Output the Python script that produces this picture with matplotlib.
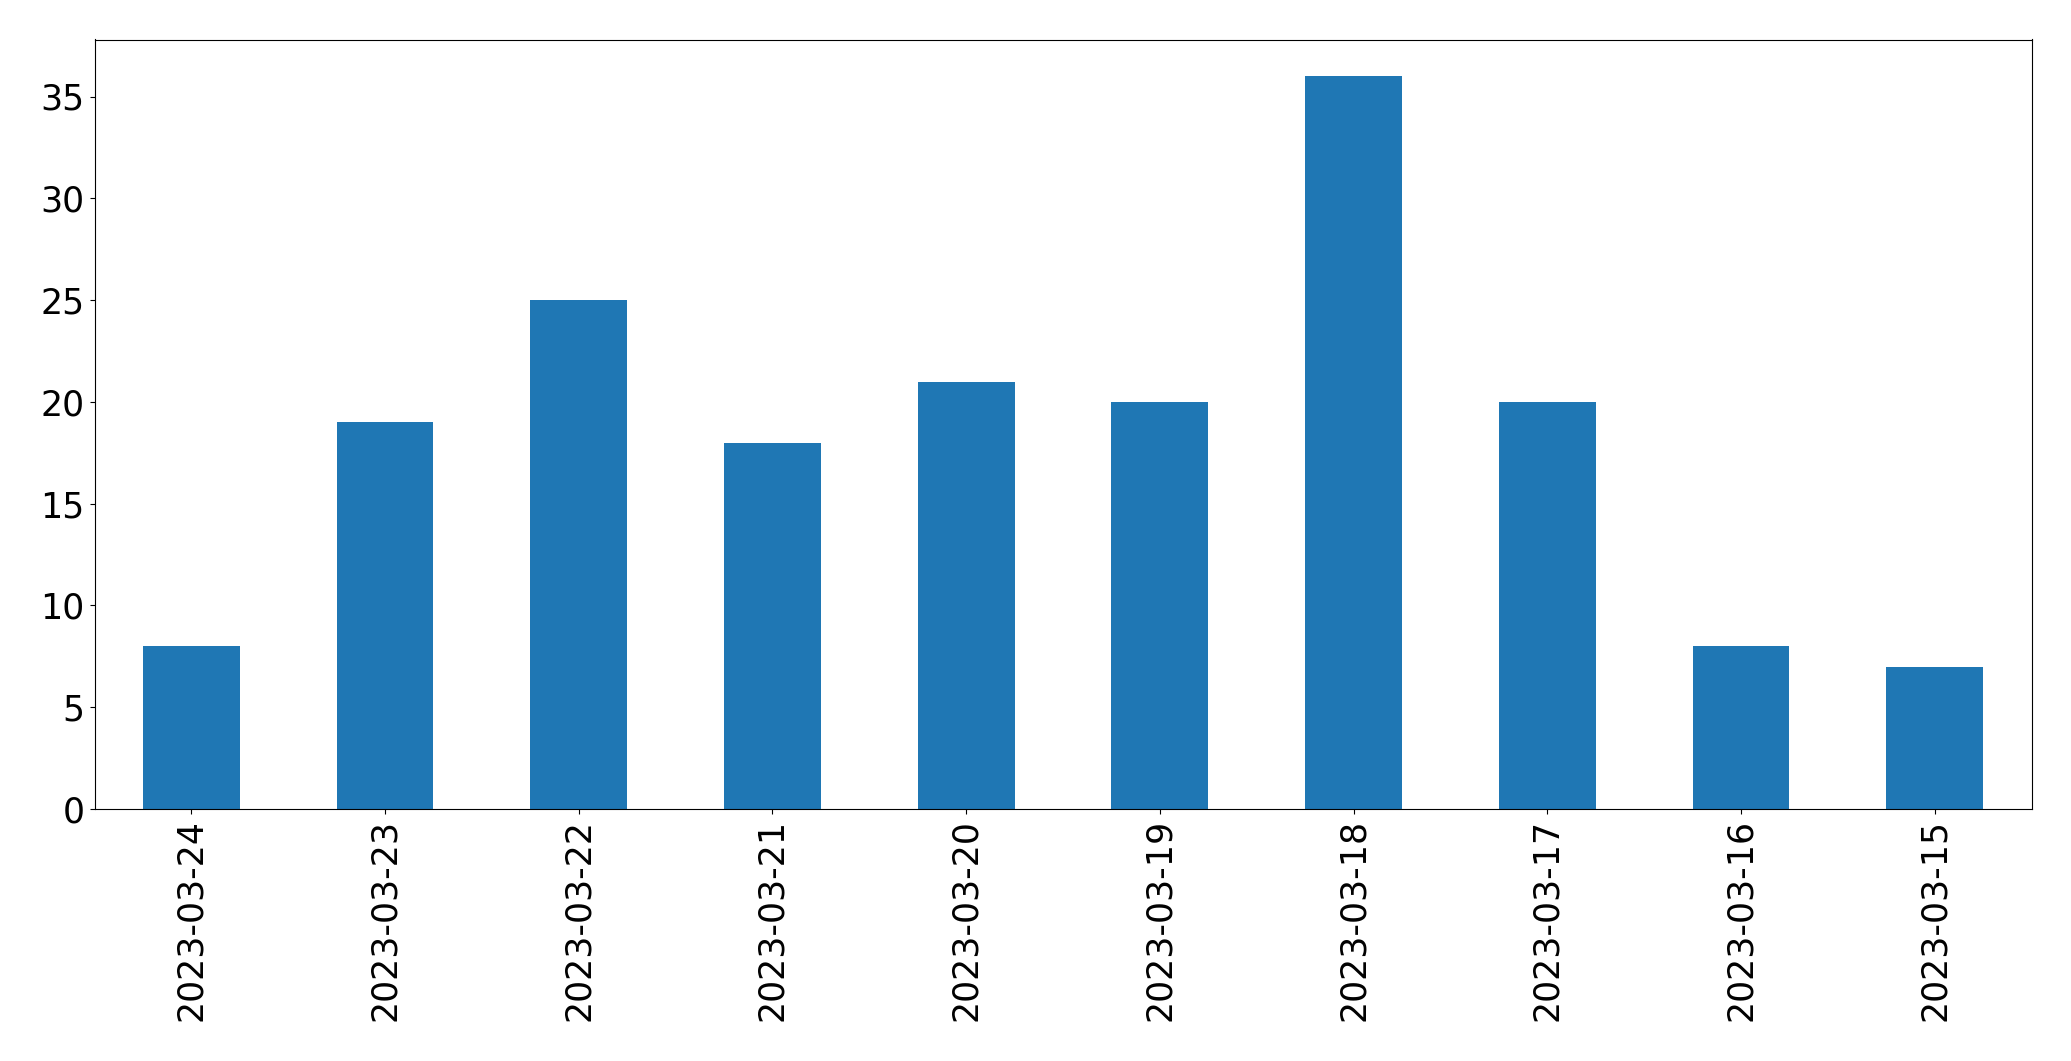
import matplotlib
matplotlib.use("Agg")
import matplotlib.pyplot as plt
import numpy as np

dates = ["2023-03-24", "2023-03-23", "2023-03-22", "2023-03-21", "2023-03-20",
         "2023-03-19", "2023-03-18", "2023-03-17", "2023-03-16", "2023-03-15"]
counts = [8, 19, 25, 18, 21, 20, 36, 20, 8, 7]

fig = plt.figure(figsize=(20.71, 10.61), dpi=100)
ax = fig.add_axes([94.5/2071, 1 - 809/1061, (2031.5 - 94.5)/2071, (809 - 39.5)/1061])

x = np.arange(len(dates))
ax.bar(x, counts, width=0.5, color="#1f77b4")
ax.set_xlim(-0.5, len(dates) - 0.5)
ax.set_ylim(0, max(counts) * 1.05)
ax.set_xticks(x)
ax.set_xticklabels(dates, rotation=90)
ax.tick_params(labelsize=25)

fig.savefig("out.png", dpi=100)
plt.close(fig)
